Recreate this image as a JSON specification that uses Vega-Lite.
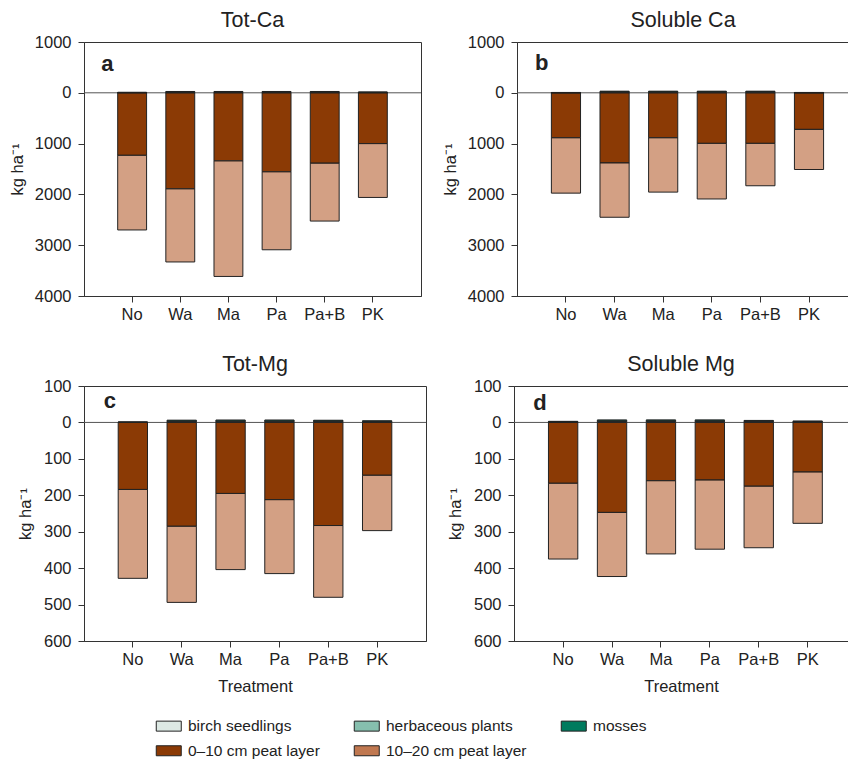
{
  "$schema": "https://vega.github.io/schema/vega-lite/v6.json",
  "padding": {"left": 9, "top": 9, "right": 0, "bottom": 0},
  "config": {
    "font": "Liberation Sans",
    "view": {"stroke": "#333", "strokeWidth": 1},
    "title": {"fontSize": 21.5, "fontWeight": "normal", "color": "#222", "offset": 3, "frame": "group"},
    "axis": {"labelFontSize": 16.5, "labelColor": "#222", "domainColor": "#333", "tickColor": "#333", "grid": false, "titleFontWeight": "normal", "titleColor": "#222", "labelOverlap": false},
    "axisX": {"tickSize": 6, "labelPadding": 4, "labelAngle": 0, "titleFontSize": 16.5, "titlePadding": 11},
    "axisY": {"tickSize": 6, "labelPadding": 7, "titleFontSize": 16.5}
  },
  "datasets": {
    "soil": [
      {"panel": "Tot-Ca", "treatment": "No", "layer": "0–10 cm peat layer", "value": -1230, "rank": 1},
      {"panel": "Tot-Ca", "treatment": "No", "layer": "10–20 cm peat layer", "value": -1470, "rank": 2},
      {"panel": "Tot-Ca", "treatment": "No", "layer": "birch seedlings", "value": 3, "rank": 3},
      {"panel": "Tot-Ca", "treatment": "No", "layer": "herbaceous plants", "value": 3, "rank": 4},
      {"panel": "Tot-Ca", "treatment": "No", "layer": "mosses", "value": 4, "rank": 5},
      {"panel": "Tot-Ca", "treatment": "Wa", "layer": "0–10 cm peat layer", "value": -1890, "rank": 1},
      {"panel": "Tot-Ca", "treatment": "Wa", "layer": "10–20 cm peat layer", "value": -1440, "rank": 2},
      {"panel": "Tot-Ca", "treatment": "Wa", "layer": "birch seedlings", "value": 8, "rank": 3},
      {"panel": "Tot-Ca", "treatment": "Wa", "layer": "herbaceous plants", "value": 8, "rank": 4},
      {"panel": "Tot-Ca", "treatment": "Wa", "layer": "mosses", "value": 10, "rank": 5},
      {"panel": "Tot-Ca", "treatment": "Ma", "layer": "0–10 cm peat layer", "value": -1340, "rank": 1},
      {"panel": "Tot-Ca", "treatment": "Ma", "layer": "10–20 cm peat layer", "value": -2275, "rank": 2},
      {"panel": "Tot-Ca", "treatment": "Ma", "layer": "birch seedlings", "value": 8, "rank": 3},
      {"panel": "Tot-Ca", "treatment": "Ma", "layer": "herbaceous plants", "value": 8, "rank": 4},
      {"panel": "Tot-Ca", "treatment": "Ma", "layer": "mosses", "value": 10, "rank": 5},
      {"panel": "Tot-Ca", "treatment": "Pa", "layer": "0–10 cm peat layer", "value": -1555, "rank": 1},
      {"panel": "Tot-Ca", "treatment": "Pa", "layer": "10–20 cm peat layer", "value": -1535, "rank": 2},
      {"panel": "Tot-Ca", "treatment": "Pa", "layer": "birch seedlings", "value": 8, "rank": 3},
      {"panel": "Tot-Ca", "treatment": "Pa", "layer": "herbaceous plants", "value": 8, "rank": 4},
      {"panel": "Tot-Ca", "treatment": "Pa", "layer": "mosses", "value": 10, "rank": 5},
      {"panel": "Tot-Ca", "treatment": "Pa+B", "layer": "0–10 cm peat layer", "value": -1385, "rank": 1},
      {"panel": "Tot-Ca", "treatment": "Pa+B", "layer": "10–20 cm peat layer", "value": -1140, "rank": 2},
      {"panel": "Tot-Ca", "treatment": "Pa+B", "layer": "birch seedlings", "value": 9, "rank": 3},
      {"panel": "Tot-Ca", "treatment": "Pa+B", "layer": "herbaceous plants", "value": 8, "rank": 4},
      {"panel": "Tot-Ca", "treatment": "Pa+B", "layer": "mosses", "value": 9, "rank": 5},
      {"panel": "Tot-Ca", "treatment": "PK", "layer": "0–10 cm peat layer", "value": -1000, "rank": 1},
      {"panel": "Tot-Ca", "treatment": "PK", "layer": "10–20 cm peat layer", "value": -1060, "rank": 2},
      {"panel": "Tot-Ca", "treatment": "PK", "layer": "birch seedlings", "value": 5, "rank": 3},
      {"panel": "Tot-Ca", "treatment": "PK", "layer": "herbaceous plants", "value": 5, "rank": 4},
      {"panel": "Tot-Ca", "treatment": "PK", "layer": "mosses", "value": 6, "rank": 5},

      {"panel": "Soluble Ca", "treatment": "No", "layer": "0–10 cm peat layer", "value": -885, "rank": 1},
      {"panel": "Soluble Ca", "treatment": "No", "layer": "10–20 cm peat layer", "value": -1090, "rank": 2},
      {"panel": "Soluble Ca", "treatment": "No", "layer": "birch seedlings", "value": 2, "rank": 3},
      {"panel": "Soluble Ca", "treatment": "No", "layer": "herbaceous plants", "value": 2, "rank": 4},
      {"panel": "Soluble Ca", "treatment": "No", "layer": "mosses", "value": 3, "rank": 5},
      {"panel": "Soluble Ca", "treatment": "Wa", "layer": "0–10 cm peat layer", "value": -1380, "rank": 1},
      {"panel": "Soluble Ca", "treatment": "Wa", "layer": "10–20 cm peat layer", "value": -1070, "rank": 2},
      {"panel": "Soluble Ca", "treatment": "Wa", "layer": "birch seedlings", "value": 10, "rank": 3},
      {"panel": "Soluble Ca", "treatment": "Wa", "layer": "herbaceous plants", "value": 10, "rank": 4},
      {"panel": "Soluble Ca", "treatment": "Wa", "layer": "mosses", "value": 12, "rank": 5},
      {"panel": "Soluble Ca", "treatment": "Ma", "layer": "0–10 cm peat layer", "value": -885, "rank": 1},
      {"panel": "Soluble Ca", "treatment": "Ma", "layer": "10–20 cm peat layer", "value": -1070, "rank": 2},
      {"panel": "Soluble Ca", "treatment": "Ma", "layer": "birch seedlings", "value": 10, "rank": 3},
      {"panel": "Soluble Ca", "treatment": "Ma", "layer": "herbaceous plants", "value": 10, "rank": 4},
      {"panel": "Soluble Ca", "treatment": "Ma", "layer": "mosses", "value": 12, "rank": 5},
      {"panel": "Soluble Ca", "treatment": "Pa", "layer": "0–10 cm peat layer", "value": -995, "rank": 1},
      {"panel": "Soluble Ca", "treatment": "Pa", "layer": "10–20 cm peat layer", "value": -1095, "rank": 2},
      {"panel": "Soluble Ca", "treatment": "Pa", "layer": "birch seedlings", "value": 10, "rank": 3},
      {"panel": "Soluble Ca", "treatment": "Pa", "layer": "herbaceous plants", "value": 10, "rank": 4},
      {"panel": "Soluble Ca", "treatment": "Pa", "layer": "mosses", "value": 12, "rank": 5},
      {"panel": "Soluble Ca", "treatment": "Pa+B", "layer": "0–10 cm peat layer", "value": -995, "rank": 1},
      {"panel": "Soluble Ca", "treatment": "Pa+B", "layer": "10–20 cm peat layer", "value": -835, "rank": 2},
      {"panel": "Soluble Ca", "treatment": "Pa+B", "layer": "birch seedlings", "value": 11, "rank": 3},
      {"panel": "Soluble Ca", "treatment": "Pa+B", "layer": "herbaceous plants", "value": 10, "rank": 4},
      {"panel": "Soluble Ca", "treatment": "Pa+B", "layer": "mosses", "value": 11, "rank": 5},
      {"panel": "Soluble Ca", "treatment": "PK", "layer": "0–10 cm peat layer", "value": -720, "rank": 1},
      {"panel": "Soluble Ca", "treatment": "PK", "layer": "10–20 cm peat layer", "value": -790, "rank": 2},
      {"panel": "Soluble Ca", "treatment": "PK", "layer": "birch seedlings", "value": 2, "rank": 3},
      {"panel": "Soluble Ca", "treatment": "PK", "layer": "herbaceous plants", "value": 2, "rank": 4},
      {"panel": "Soluble Ca", "treatment": "PK", "layer": "mosses", "value": 3, "rank": 5},

      {"panel": "Tot-Mg", "treatment": "No", "layer": "0–10 cm peat layer", "value": -184, "rank": 1},
      {"panel": "Tot-Mg", "treatment": "No", "layer": "10–20 cm peat layer", "value": -244, "rank": 2},
      {"panel": "Tot-Mg", "treatment": "No", "layer": "birch seedlings", "value": 0.3, "rank": 3},
      {"panel": "Tot-Mg", "treatment": "No", "layer": "herbaceous plants", "value": 0.3, "rank": 4},
      {"panel": "Tot-Mg", "treatment": "No", "layer": "mosses", "value": 0.4, "rank": 5},
      {"panel": "Tot-Mg", "treatment": "Wa", "layer": "0–10 cm peat layer", "value": -285, "rank": 1},
      {"panel": "Tot-Mg", "treatment": "Wa", "layer": "10–20 cm peat layer", "value": -209, "rank": 2},
      {"panel": "Tot-Mg", "treatment": "Wa", "layer": "birch seedlings", "value": 2, "rank": 3},
      {"panel": "Tot-Mg", "treatment": "Wa", "layer": "herbaceous plants", "value": 2, "rank": 4},
      {"panel": "Tot-Mg", "treatment": "Wa", "layer": "mosses", "value": 2.2, "rank": 5},
      {"panel": "Tot-Mg", "treatment": "Ma", "layer": "0–10 cm peat layer", "value": -195, "rank": 1},
      {"panel": "Tot-Mg", "treatment": "Ma", "layer": "10–20 cm peat layer", "value": -209, "rank": 2},
      {"panel": "Tot-Mg", "treatment": "Ma", "layer": "birch seedlings", "value": 2, "rank": 3},
      {"panel": "Tot-Mg", "treatment": "Ma", "layer": "herbaceous plants", "value": 2.2, "rank": 4},
      {"panel": "Tot-Mg", "treatment": "Ma", "layer": "mosses", "value": 2.5, "rank": 5},
      {"panel": "Tot-Mg", "treatment": "Pa", "layer": "0–10 cm peat layer", "value": -212, "rank": 1},
      {"panel": "Tot-Mg", "treatment": "Pa", "layer": "10–20 cm peat layer", "value": -203, "rank": 2},
      {"panel": "Tot-Mg", "treatment": "Pa", "layer": "birch seedlings", "value": 2, "rank": 3},
      {"panel": "Tot-Mg", "treatment": "Pa", "layer": "herbaceous plants", "value": 2.2, "rank": 4},
      {"panel": "Tot-Mg", "treatment": "Pa", "layer": "mosses", "value": 2.5, "rank": 5},
      {"panel": "Tot-Mg", "treatment": "Pa+B", "layer": "0–10 cm peat layer", "value": -283, "rank": 1},
      {"panel": "Tot-Mg", "treatment": "Pa+B", "layer": "10–20 cm peat layer", "value": -197, "rank": 2},
      {"panel": "Tot-Mg", "treatment": "Pa+B", "layer": "birch seedlings", "value": 2, "rank": 3},
      {"panel": "Tot-Mg", "treatment": "Pa+B", "layer": "herbaceous plants", "value": 2, "rank": 4},
      {"panel": "Tot-Mg", "treatment": "Pa+B", "layer": "mosses", "value": 2, "rank": 5},
      {"panel": "Tot-Mg", "treatment": "PK", "layer": "0–10 cm peat layer", "value": -145, "rank": 1},
      {"panel": "Tot-Mg", "treatment": "PK", "layer": "10–20 cm peat layer", "value": -152, "rank": 2},
      {"panel": "Tot-Mg", "treatment": "PK", "layer": "birch seedlings", "value": 1.5, "rank": 3},
      {"panel": "Tot-Mg", "treatment": "PK", "layer": "herbaceous plants", "value": 1.5, "rank": 4},
      {"panel": "Tot-Mg", "treatment": "PK", "layer": "mosses", "value": 1.5, "rank": 5},

      {"panel": "Soluble Mg", "treatment": "No", "layer": "0–10 cm peat layer", "value": -167, "rank": 1},
      {"panel": "Soluble Mg", "treatment": "No", "layer": "10–20 cm peat layer", "value": -208, "rank": 2},
      {"panel": "Soluble Mg", "treatment": "No", "layer": "birch seedlings", "value": 1, "rank": 3},
      {"panel": "Soluble Mg", "treatment": "No", "layer": "herbaceous plants", "value": 1, "rank": 4},
      {"panel": "Soluble Mg", "treatment": "No", "layer": "mosses", "value": 1, "rank": 5},
      {"panel": "Soluble Mg", "treatment": "Wa", "layer": "0–10 cm peat layer", "value": -247, "rank": 1},
      {"panel": "Soluble Mg", "treatment": "Wa", "layer": "10–20 cm peat layer", "value": -176, "rank": 2},
      {"panel": "Soluble Mg", "treatment": "Wa", "layer": "birch seedlings", "value": 2.2, "rank": 3},
      {"panel": "Soluble Mg", "treatment": "Wa", "layer": "herbaceous plants", "value": 2.2, "rank": 4},
      {"panel": "Soluble Mg", "treatment": "Wa", "layer": "mosses", "value": 2.5, "rank": 5},
      {"panel": "Soluble Mg", "treatment": "Ma", "layer": "0–10 cm peat layer", "value": -160, "rank": 1},
      {"panel": "Soluble Mg", "treatment": "Ma", "layer": "10–20 cm peat layer", "value": -201, "rank": 2},
      {"panel": "Soluble Mg", "treatment": "Ma", "layer": "birch seedlings", "value": 2.2, "rank": 3},
      {"panel": "Soluble Mg", "treatment": "Ma", "layer": "herbaceous plants", "value": 2.3, "rank": 4},
      {"panel": "Soluble Mg", "treatment": "Ma", "layer": "mosses", "value": 2.5, "rank": 5},
      {"panel": "Soluble Mg", "treatment": "Pa", "layer": "0–10 cm peat layer", "value": -158, "rank": 1},
      {"panel": "Soluble Mg", "treatment": "Pa", "layer": "10–20 cm peat layer", "value": -190, "rank": 2},
      {"panel": "Soluble Mg", "treatment": "Pa", "layer": "birch seedlings", "value": 2.2, "rank": 3},
      {"panel": "Soluble Mg", "treatment": "Pa", "layer": "herbaceous plants", "value": 2.3, "rank": 4},
      {"panel": "Soluble Mg", "treatment": "Pa", "layer": "mosses", "value": 2.5, "rank": 5},
      {"panel": "Soluble Mg", "treatment": "Pa+B", "layer": "0–10 cm peat layer", "value": -175, "rank": 1},
      {"panel": "Soluble Mg", "treatment": "Pa+B", "layer": "10–20 cm peat layer", "value": -169, "rank": 2},
      {"panel": "Soluble Mg", "treatment": "Pa+B", "layer": "birch seedlings", "value": 1.8, "rank": 3},
      {"panel": "Soluble Mg", "treatment": "Pa+B", "layer": "herbaceous plants", "value": 1.8, "rank": 4},
      {"panel": "Soluble Mg", "treatment": "Pa+B", "layer": "mosses", "value": 1.9, "rank": 5},
      {"panel": "Soluble Mg", "treatment": "PK", "layer": "0–10 cm peat layer", "value": -136, "rank": 1},
      {"panel": "Soluble Mg", "treatment": "PK", "layer": "10–20 cm peat layer", "value": -141, "rank": 2},
      {"panel": "Soluble Mg", "treatment": "PK", "layer": "birch seedlings", "value": 1.3, "rank": 3},
      {"panel": "Soluble Mg", "treatment": "PK", "layer": "herbaceous plants", "value": 1.3, "rank": 4},
      {"panel": "Soluble Mg", "treatment": "PK", "layer": "mosses", "value": 1.4, "rank": 5}
    ]
  },
  "vconcat": [
    {
      "hconcat": [
        {
          "width": 337, "height": 254,
          "title": {"text": "Tot-Ca"},
          "layer": [
            {"data": {"values": [{}]}, "mark": {"type": "rule", "color": "#555", "strokeWidth": 1}, "encoding": {"y": {"datum": 0, "type": "quantitative"}}},
            {
              "data": {"name": "soil"},
              "transform": [{"filter": "datum.panel === 'Tot-Ca'"}],
              "mark": {"type": "bar", "stroke": "#222", "strokeWidth": 1},
              "encoding": {
                "x": {"field": "treatment", "type": "nominal", "scale": {"domain": ["No", "Wa", "Ma", "Pa", "Pa+B", "PK"], "paddingInner": 0.4, "paddingOuter": 0.7}, "axis": {"title": null}},
                "y": {"field": "value", "type": "quantitative", "stack": "zero", "scale": {"domain": [-4000, 1000], "nice": false}, "axis": {"values": [-4000, -3000, -2000, -1000, 0, 1000], "tickCount": 6, "labelExpr": "abs(datum.value)", "labelOverlap": false, "title": "kg ha⁻¹", "titlePadding": 8.5}},
                "color": {"field": "layer", "type": "nominal", "scale": {"domain": ["birch seedlings", "herbaceous plants", "mosses", "0–10 cm peat layer", "10–20 cm peat layer"], "range": ["#dde9e4", "#86bfae", "#007b5e", "#8b3a05", "#c07850"]}, "legend": {"title": null, "orient": "none", "legendX": 77, "legendY": 676, "direction": "horizontal", "columns": 3, "columnPadding": 32, "rowPadding": 8, "labelFontSize": 15.5, "labelColor": "#222", "labelOffset": 11.5, "symbolType": "M-2.5,-1L2.5,-1L2.5,1L-2.5,1Z", "symbolSize": 100, "symbolStrokeColor": "#333", "symbolStrokeWidth": 1, "symbolOpacity": 1, "padding": 0}},
                "order": {"field": "rank", "type": "quantitative"},
                "fillOpacity": {"condition": {"test": "datum.layer === '10–20 cm peat layer'", "value": 0.7}, "value": 1}
              }
            },
            {"data": {"values": [{}]}, "mark": {"type": "text", "text": "a", "fontSize": 22, "fontWeight": "bold", "align": "left", "baseline": "alphabetic", "dx": -31, "color": "#222"}, "encoding": {"x": {"datum": "No", "type": "nominal"}, "y": {"datum": 430, "type": "quantitative"}}}
          ]
        },
        {
          "width": 332, "height": 254,
          "title": {"text": "Soluble Ca"},
          "layer": [
            {"data": {"values": [{}]}, "mark": {"type": "rule", "color": "#555", "strokeWidth": 1}, "encoding": {"y": {"datum": 0, "type": "quantitative"}}},
            {
              "data": {"name": "soil"},
              "transform": [{"filter": "datum.panel === 'Soluble Ca'"}],
              "mark": {"type": "bar", "stroke": "#222", "strokeWidth": 1},
              "encoding": {
                "x": {"field": "treatment", "type": "nominal", "scale": {"domain": ["No", "Wa", "Ma", "Pa", "Pa+B", "PK"], "paddingInner": 0.4, "paddingOuter": 0.615, "align": 0.575}, "axis": {"title": null}},
                "y": {"field": "value", "type": "quantitative", "stack": "zero", "scale": {"domain": [-4000, 1000], "nice": false}, "axis": {"values": [-4000, -3000, -2000, -1000, 0, 1000], "tickCount": 6, "labelExpr": "abs(datum.value)", "labelOverlap": false, "title": "kg ha⁻¹", "titlePadding": 8.5}},
                "color": {"field": "layer", "type": "nominal", "legend": {"title": null}},
                "order": {"field": "rank", "type": "quantitative"},
                "fillOpacity": {"condition": {"test": "datum.layer === '10–20 cm peat layer'", "value": 0.7}, "value": 1}
              }
            },
            {"data": {"values": [{}]}, "mark": {"type": "text", "text": "b", "fontSize": 22, "fontWeight": "bold", "align": "left", "baseline": "alphabetic", "dx": -31, "color": "#222"}, "encoding": {"x": {"datum": "No", "type": "nominal"}, "y": {"datum": 440, "type": "quantitative"}}}
          ]
        }
      ],
      "spacing": 20
    },
    {
      "hconcat": [
        {
          "width": 342, "height": 255,
          "title": {"text": "Tot-Mg"},
          "layer": [
            {"data": {"values": [{}]}, "mark": {"type": "rule", "color": "#555", "strokeWidth": 1}, "encoding": {"y": {"datum": 0, "type": "quantitative"}}},
            {
              "data": {"name": "soil"},
              "transform": [{"filter": "datum.panel === 'Tot-Mg'"}],
              "mark": {"type": "bar", "stroke": "#222", "strokeWidth": 1},
              "encoding": {
                "x": {"field": "treatment", "type": "nominal", "scale": {"domain": ["No", "Wa", "Ma", "Pa", "Pa+B", "PK"], "paddingInner": 0.4, "paddingOuter": 0.7}, "axis": {"title": "Treatment"}},
                "y": {"field": "value", "type": "quantitative", "stack": "zero", "scale": {"domain": [-600, 100], "nice": false}, "axis": {"values": [-600, -500, -400, -300, -200, -100, 0, 100], "tickCount": 8, "labelExpr": "abs(datum.value)", "labelOverlap": false, "title": "kg ha⁻¹", "titlePadding": 9.5}},
                "color": {"field": "layer", "type": "nominal", "legend": {"title": null}},
                "order": {"field": "rank", "type": "quantitative"},
                "fillOpacity": {"condition": {"test": "datum.layer === '10–20 cm peat layer'", "value": 0.7}, "value": 1}
              }
            },
            {"data": {"values": [{}]}, "mark": {"type": "text", "text": "c", "fontSize": 22, "fontWeight": "bold", "align": "left", "baseline": "alphabetic", "dx": -29, "color": "#222"}, "encoding": {"x": {"datum": "No", "type": "nominal"}, "y": {"datum": 40, "type": "quantitative"}}}
          ]
        },
        {
          "width": 334, "height": 255,
          "title": {"text": "Soluble Mg"},
          "layer": [
            {"data": {"values": [{}]}, "mark": {"type": "rule", "color": "#555", "strokeWidth": 1}, "encoding": {"y": {"datum": 0, "type": "quantitative"}}},
            {
              "data": {"name": "soil"},
              "transform": [{"filter": "datum.panel === 'Soluble Mg'"}],
              "mark": {"type": "bar", "stroke": "#222", "strokeWidth": 1},
              "encoding": {
                "x": {"field": "treatment", "type": "nominal", "scale": {"domain": ["No", "Wa", "Ma", "Pa", "Pa+B", "PK"], "paddingInner": 0.4, "paddingOuter": 0.615, "align": 0.573}, "axis": {"title": "Treatment"}},
                "y": {"field": "value", "type": "quantitative", "stack": "zero", "scale": {"domain": [-600, 100], "nice": false}, "axis": {"values": [-600, -500, -400, -300, -200, -100, 0, 100], "tickCount": 8, "labelExpr": "abs(datum.value)", "labelOverlap": false, "title": "kg ha⁻¹", "titlePadding": 9.5}},
                "color": {"field": "layer", "type": "nominal", "legend": {"title": null}},
                "order": {"field": "rank", "type": "quantitative"},
                "fillOpacity": {"condition": {"test": "datum.layer === '10–20 cm peat layer'", "value": 0.7}, "value": 1}
              }
            },
            {"data": {"values": [{}]}, "mark": {"type": "text", "text": "d", "fontSize": 22, "fontWeight": "bold", "align": "left", "baseline": "alphabetic", "dx": -30, "color": "#222"}, "encoding": {"x": {"datum": "No", "type": "nominal"}, "y": {"datum": 35, "type": "quantitative"}}}
          ]
        }
      ],
      "spacing": 20
    }
  ],
  "spacing": 30
}
